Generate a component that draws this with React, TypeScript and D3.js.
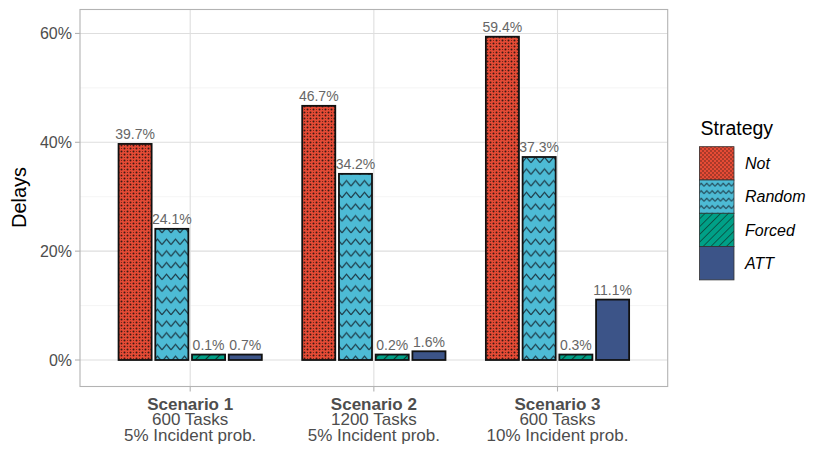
import React from "react";
import * as d3 from "d3";

// chart data
const scenarios = ["Scenario 1", "Scenario 2", "Scenario 3"];
const scenarioTasks = ["600 Tasks", "1200 Tasks", "600 Tasks"];
const scenarioProb = ["5% Incident prob.", "5% Incident prob.", "10% Incident prob."];
const strategies = ["Not", "Random", "Forced", "ATT"];
const notValues = [39.7, 46.7, 59.4];
const randomValues = [24.1, 34.2, 37.3];
const forcedValues = [0.1, 0.2, 0.3];
const attValues = [0.7, 1.6, 11.1];
const yTicks = [0, 20, 40, 60];
const yMinorTicks = [10, 30, 50];

const seriesValues = [notValues, randomValues, forcedValues, attValues];
const fills = ["#E64B35", "#4DBBD5", "#00A087", "#3C5488"];
const patternIds = ["pat-dots", "pat-zigzag", "pat-stripes", null];
const legendPatternIds = ["lg-dots", "lg-zigzag", "lg-stripes", null];

const W = 830;
const H = 456;
const panel = { left: 80, right: 667.7, top: 9.5, bottom: 386.5 };
const font = "'Liberation Sans', Arial, Helvetica, sans-serif";

export default function App() {
  const x = d3.scalePoint<string>().domain(scenarios).range([panel.left, panel.right]).padding(0.6);
  const step = x.step();
  const inner = d3
    .scaleBand<string>()
    .domain(strategies)
    .range([-0.4 * step, 0.4 * step])
    .paddingInner(0.1)
    .paddingOuter(0.05);
  const y = d3.scaleLinear().domain([-4.87, 64.4]).range([panel.bottom, panel.top]);

  const bars = strategies.flatMap((s, si) =>
    scenarios.map((sc, ci) => {
      const v = seriesValues[si][ci];
      const shown = Math.max(v, 1); // tiny values get a minimum visible height
      const x0 = (x(sc) as number) + (inner(s) as number);
      return { s, si, sc, v, x0, y0: y(shown), w: inner.bandwidth(), h: y(0) - y(shown) };
    })
  );

  const zig = (pw: number, ph: number, amp: number) =>
    `M0,${ph / 2 + amp / 2} L${pw / 2},${ph / 2 - amp / 2} L${pw},${ph / 2 + amp / 2}`;

  const legendX = 699.5;
  const legendY = 146.7;
  const keyW = 34.5;
  const keyH = 33.3;

  return (
    <svg width={W} height={H} style={{ position: "absolute", left: 0, top: 0, display: "block" }} fontFamily={font}>
      <defs>
        {/* bar patterns */}
        <pattern id="pat-dots" patternUnits="userSpaceOnUse" width={6} height={6}>
          <rect width={6} height={6} fill={fills[0]} />
          <circle cx={1.5} cy={1.5} r={1} fill="#3a1a14" />
          <circle cx={4.5} cy={4.5} r={1} fill="#3a1a14" />
          <circle cx={4.5} cy={1.5} r={0.6} fill="#5e2016" />
          <circle cx={1.5} cy={4.5} r={0.6} fill="#5e2016" />
        </pattern>
        <pattern id="pat-zigzag" patternUnits="userSpaceOnUse" width={9} height={11.7} x={0} y={2}>
          <rect width={9} height={11.7} fill={fills[1]} />
          <path d={zig(9, 11.7, 5.5)} fill="none" stroke="#1f3f4c" strokeWidth={1.3} strokeLinejoin="miter" />
        </pattern>
        <pattern id="pat-stripes" patternUnits="userSpaceOnUse" width={7} height={7} patternTransform="rotate(45)">
          <rect width={7} height={7} fill={fills[2]} />
          <line x1={0} y1={0} x2={0} y2={7} stroke="#0d3a30" strokeWidth={2.2} />
        </pattern>
        {/* legend patterns (smaller scale) */}
        <pattern id="lg-dots" patternUnits="userSpaceOnUse" width={4} height={4}>
          <rect width={4} height={4} fill={fills[0]} />
          <circle cx={1} cy={1} r={0.65} fill="#3a1a14" />
          <circle cx={3} cy={3} r={0.65} fill="#3a1a14" />
        </pattern>
        <pattern id="lg-zigzag" patternUnits="userSpaceOnUse" width={5.5} height={7.5} x={0} y={1}>
          <rect width={5.5} height={7.5} fill={fills[1]} />
          <path d={zig(5.5, 7.5, 3)} fill="none" stroke="#1f3f4c" strokeWidth={1} />
        </pattern>
        <pattern id="lg-stripes" patternUnits="userSpaceOnUse" width={5.5} height={5.5} patternTransform="rotate(45)">
          <rect width={5.5} height={5.5} fill={fills[2]} />
          <line x1={0} y1={0} x2={0} y2={5.5} stroke="#0d3a30" strokeWidth={1.4} />
        </pattern>
        <clipPath id="panel-clip">
          <rect x={panel.left} y={panel.top} width={panel.right - panel.left} height={panel.bottom - panel.top} />
        </clipPath>
      </defs>

      <rect width={W} height={H} fill="white" />

      {/* grid */}
      <g>
        {yMinorTicks.map((t) => (
          <line key={"mn" + t} x1={panel.left} x2={panel.right} y1={y(t)} y2={y(t)} stroke="#ededed" strokeWidth={0.6} />
        ))}
        {yTicks.map((t) => (
          <line key={"mj" + t} x1={panel.left} x2={panel.right} y1={y(t)} y2={y(t)} stroke="#dedede" strokeWidth={1.1} />
        ))}
        {scenarios.map((sc) => (
          <line key={"vx" + sc} x1={x(sc)} x2={x(sc)} y1={panel.top} y2={panel.bottom} stroke="#dedede" strokeWidth={1.1} />
        ))}
      </g>

      {/* bars */}
      <g clipPath="url(#panel-clip)">
        {bars.map((b) => (
          <g key={b.s + b.sc}>
            <rect x={b.x0} y={b.y0} width={b.w} height={b.h} fill={fills[b.si]} />
            {patternIds[b.si] && <rect x={b.x0} y={b.y0} width={b.w} height={b.h} fill={`url(#${patternIds[b.si]})`} />}
            <rect x={b.x0} y={b.y0} width={b.w} height={b.h} fill="none" stroke="#111" strokeWidth={1.8} />
          </g>
        ))}
      </g>

      {/* value labels */}
      <g fontSize={14} fill="#666666" textAnchor="middle">
        {bars.map((b) => (
          <text key={"lb" + b.s + b.sc} x={b.x0 + b.w / 2} y={b.y0 - 4.5}>
            {`${b.v.toFixed(1)}%`}
          </text>
        ))}
      </g>

      {/* panel border */}
      <rect
        x={panel.left}
        y={panel.top}
        width={panel.right - panel.left}
        height={panel.bottom - panel.top}
        fill="none"
        stroke="#b3b3b3"
        strokeWidth={1.1}
      />

      {/* y axis */}
      <g>
        {yTicks.map((t) => (
          <g key={"yt" + t}>
            <line x1={panel.left - 5} x2={panel.left} y1={y(t)} y2={y(t)} stroke="#b3b3b3" strokeWidth={1.1} />
            <text x={panel.left - 8} y={y(t)} dy="0.36em" textAnchor="end" fontSize={16} fill="#4d4d4d">
              {`${t}%`}
            </text>
          </g>
        ))}
        <text transform={`translate(25.5, ${(panel.top + panel.bottom) / 2 - 0.5}) rotate(-90)`} textAnchor="middle" fontSize={20} fill="#000">
          Delays
        </text>
      </g>

      {/* x axis */}
      <g textAnchor="middle" fontSize={17} fill="#4d4d4d">
        {scenarios.map((sc, i) => (
          <g key={"xt" + sc}>
            <line x1={x(sc)} x2={x(sc)} y1={panel.bottom} y2={panel.bottom + 5} stroke="#b3b3b3" strokeWidth={1.1} />
            <text x={x(sc)} y={409.5} fontWeight="bold">
              {sc}
            </text>
            <text x={x(sc)} y={425}>
              {scenarioTasks[i]}
            </text>
            <text x={x(sc)} y={440.5}>
              {scenarioProb[i]}
            </text>
          </g>
        ))}
      </g>

      {/* legend */}
      <g>
        <text x={700.5} y={135} fontSize={19.5} fill="#000">
          Strategy
        </text>
        {strategies.map((s, i) => (
          <g key={"lg" + s}>
            <rect x={legendX} y={legendY + i * keyH} width={keyW} height={keyH} fill={fills[i]} />
            {legendPatternIds[i] && (
              <rect x={legendX} y={legendY + i * keyH} width={keyW} height={keyH} fill={`url(#${legendPatternIds[i]})`} />
            )}
            <rect x={legendX} y={legendY + i * keyH} width={keyW} height={keyH} fill="none" stroke="#333" strokeWidth={0.8} />
            <text x={745} y={legendY + i * keyH + keyH / 2} dy="0.36em" fontSize={16} fontStyle="italic" fill="#000">
              {s}
            </text>
          </g>
        ))}
      </g>
    </svg>
  );
}
